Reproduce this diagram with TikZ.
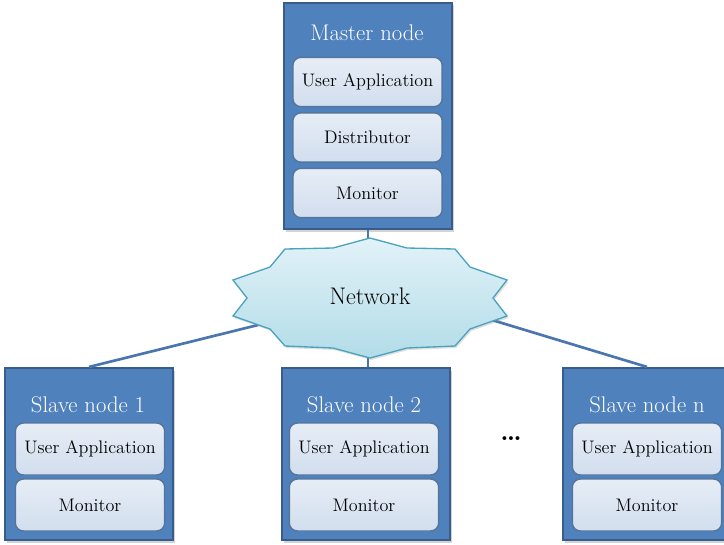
\documentclass[tikz,border=0pt]{standalone}
\usetikzlibrary{shadows}
\definecolor{outerblue}{HTML}{4F81BD}
\definecolor{darkblue}{HTML}{385D8A}
\definecolor{innertop}{HTML}{E6EDF6}
\definecolor{innerbot}{HTML}{D2DEEE}
\definecolor{nettop}{HTML}{E2F2F8}
\definecolor{netbot}{HTML}{B2DCE8}
\definecolor{netline}{HTML}{4BA3BE}
\definecolor{linkblue}{HTML}{4A76B0}
\tikzset{
  outerbox/.style={draw=darkblue, line width=1.6pt, fill=outerblue, minimum width=126pt,
    drop shadow={opacity=0.35, shadow xshift=1.2pt, shadow yshift=-2pt}},
  innerbox/.style={draw=darkblue!85, line width=1.1pt, top color=innertop, bottom color=innerbot,
    rounded corners=6pt, minimum width=112pt, font=\fontsize{13.6}{16}\selectfont},
  titletext/.style={text=white, font=\fontsize{17}{20}\selectfont},
  link/.style={draw=linkblue, line width=2pt},
  netshape/.style={draw=netline, line width=1pt, top color=nettop, bottom color=netbot,
    drop shadow={opacity=0.25, shadow xshift=1pt, shadow yshift=-1.5pt}}
}
\begin{document}
\begin{tikzpicture}[x=0.75pt,y=-0.75pt]
\useasboundingbox (0,0) rectangle (724,544);
\clip (0,0) rectangle (724,544);

% connector coordinates on the network shape
\coordinate (nettop) at (368,240);
\coordinate (netbot) at (368,356);
\coordinate (netleft) at (258,325);
\coordinate (netright) at (492,320);

% outer boxes
\node[outerbox, minimum height=170pt] (master) at (368,116) {};
\node[outerbox, minimum height=129pt] (slave1) at (89,454) {};
\node[outerbox, minimum height=129pt] (slave2) at (366,454) {};
\node[outerbox, minimum height=129pt] (slaven) at (647,454) {};

% connectors
\draw[link] (master.south) -- (nettop);
\draw[link] (netbot) -- (netbot |- slave2.north);
\draw[link] (netleft) -- (slave1.north);
\draw[link] (netright) -- (slaven.north);

% network
\path[netshape] (370,238) -- (407,248) -- (455,249) -- (470,267) -- (507,280) -- (493,298)
  -- (507,316) -- (470,329) -- (455,346) -- (407,348) -- (370,358) -- (333,348)
  -- (285,346) -- (270,329) -- (233,316) -- (247,298) -- (233,280) -- (270,267)
  -- (285,249) -- (333,248) -- cycle;
\node[font=\fontsize{18}{21}\selectfont] (net) at (370,296) {Network};

% master contents
\node[titletext] (mtitle) at (367,33) {Master node};
\node[innerbox, minimum height=37pt] (mua) at (367.5,82) {User Application};
\node[innerbox, minimum height=37pt] (mdist) at (367.5,137.5) {Distributor};
\node[innerbox, minimum height=37pt] (mmon) at (367.5,193) {Monitor};

% slave 1
\node[titletext] (s1title) at (88,405) {Slave node 1};
\node[innerbox, minimum height=39pt] (s1ua) at (90,449) {User Application};
\node[innerbox, minimum height=39pt] (s1mon) at (90,505) {Monitor};

% slave 2
\node[titletext] (s2title) at (364,405) {Slave node 2};
\node[innerbox, minimum height=39pt] (s2ua) at (364,449) {User Application};
\node[innerbox, minimum height=39pt] (s2mon) at (364,505) {Monitor};

% slave n
\node[titletext] (sntitle) at (647,405) {Slave node n};
\node[innerbox, minimum height=39pt] (snua) at (647,449) {User Application};
\node[innerbox, minimum height=39pt] (snmon) at (647,505) {Monitor};

% dots
\node[font=\fontsize{20}{24}\selectfont\bfseries] (dots) at (511,439) {\ldots};
\end{tikzpicture}
\end{document}
